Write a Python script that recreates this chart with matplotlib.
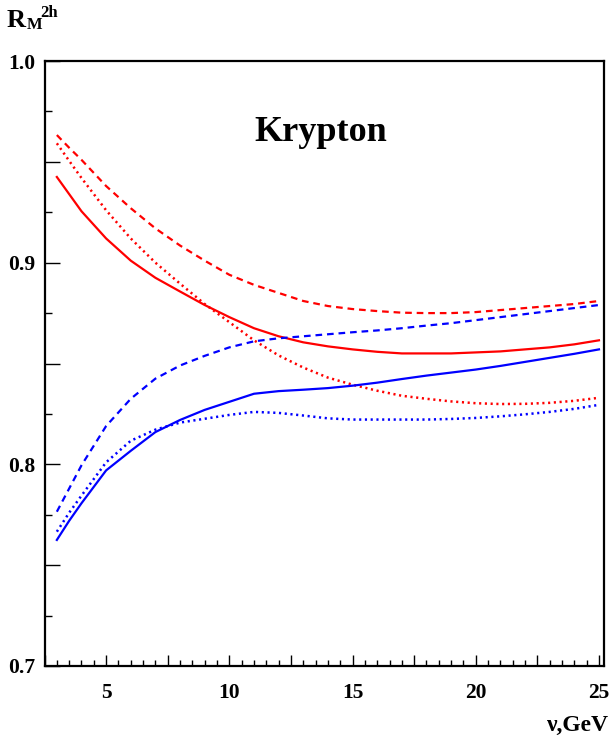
import matplotlib
matplotlib.use("Agg")
import matplotlib.pyplot as plt
from matplotlib.ticker import MultipleLocator, FuncFormatter

# ---- data ----
nu = [3, 3.5, 4, 5, 6, 7, 8, 9, 10, 11, 12, 13, 14, 15, 16, 17, 18, 19, 20, 21, 22, 23, 24, 25]

red_solid = [0.9425, 0.934, 0.9255, 0.912, 0.901, 0.8925, 0.8857, 0.879, 0.873, 0.8675, 0.8635,
             0.8605, 0.8585, 0.857, 0.8558, 0.855, 0.855, 0.855, 0.8555, 0.856, 0.857, 0.858, 0.8595, 0.8615]
red_dashed = [0.9633, 0.957, 0.951, 0.938, 0.927, 0.917, 0.9085, 0.901, 0.894, 0.889, 0.885,
              0.881, 0.8785, 0.877, 0.876, 0.8752, 0.875, 0.875, 0.8755, 0.8765, 0.8775, 0.8785, 0.8795, 0.881]
red_dotted = [0.9592, 0.9505, 0.942, 0.926, 0.912, 0.900, 0.8896, 0.8795, 0.8705, 0.8615, 0.854,
              0.848, 0.843, 0.8395, 0.8365, 0.834, 0.8325, 0.8312, 0.8303, 0.8299, 0.830, 0.8305, 0.8315, 0.833]
blue_solid = [0.7625, 0.772, 0.7807, 0.797, 0.8067, 0.816, 0.822, 0.827, 0.831, 0.835, 0.8363,
              0.837, 0.8378, 0.839, 0.8405, 0.8423, 0.844, 0.8455, 0.847, 0.8488, 0.8508, 0.8528, 0.8548, 0.857]
blue_dashed = [0.7765, 0.788, 0.7995, 0.819, 0.8325, 0.8425, 0.849, 0.8538, 0.858, 0.861, 0.8625,
               0.8635, 0.8645, 0.8655, 0.8664, 0.8675, 0.8688, 0.870, 0.8715, 0.873, 0.8745, 0.876, 0.8775, 0.879]
blue_dotted = [0.7666, 0.776, 0.7845, 0.801, 0.8117, 0.8172, 0.8207, 0.8226, 0.8245, 0.826, 0.8255,
               0.8242, 0.8228, 0.8222, 0.8222, 0.8222, 0.8222, 0.8225, 0.823, 0.8238, 0.8248, 0.826, 0.8275, 0.8295]

title_text = "Krypton"
xlabel_text = "ν,GeV"

serif = ["Liberation Serif", "DejaVu Serif"]

fig = plt.figure(figsize=(6.10, 7.38), dpi=100)
ax = fig.add_axes([0.073, 0.0976, 0.917, 0.8197])

lw = 1.6
dash = (0, (3.0, 2.2))
dot = (0, (0.85, 1.45))
ax.plot(nu, red_solid, color="#ff0000", lw=lw, ls="-")
ax.plot(nu, red_dashed, color="#ff0000", lw=lw, ls=dash)
ax.plot(nu, red_dotted, color="#ff0000", lw=1.8, ls=dot)
ax.plot(nu, blue_solid, color="#0000ff", lw=lw, ls="-")
ax.plot(nu, blue_dashed, color="#0000ff", lw=lw, ls=dash)
ax.plot(nu, blue_dotted, color="#0000ff", lw=1.8, ls=dot)

ax.set_xlim(2.5, 25.2)
ax.set_ylim(0.7, 1.0)

for s in ax.spines.values():
    s.set_linewidth(1.6)

ax.xaxis.set_major_locator(MultipleLocator(2.5))
ax.xaxis.set_minor_locator(MultipleLocator(0.5))
ax.yaxis.set_major_locator(MultipleLocator(0.05))
ax.yaxis.set_minor_locator(MultipleLocator(0.025))

def xfmt(v, pos):
    if abs(v / 5 - round(v / 5)) < 1e-6 and v > 0:
        return "%d" % round(v)
    return ""

def yfmt(v, pos):
    if abs(v * 10 - round(v * 10)) < 1e-6:
        return "%.1f" % v
    return ""

ax.xaxis.set_major_formatter(FuncFormatter(xfmt))
ax.yaxis.set_major_formatter(FuncFormatter(yfmt))

ax.tick_params(axis="both", which="both", direction="in", top=False, right=False, width=1.0)
ax.tick_params(axis="x", which="major", length=8, pad=12)
ax.tick_params(axis="x", which="minor", length=4)
ax.tick_params(axis="y", which="major", length=11, pad=6.5)
ax.tick_params(axis="y", which="minor", length=5)

for lab in ax.get_xticklabels() + ax.get_yticklabels():
    lab.set_fontfamily(serif)
    lab.set_fontweight("bold")
    lab.set_fontsize(15.5)

ax.text(0.493, 0.868, title_text, transform=ax.transAxes, ha="center", va="baseline",
        fontsize=26, fontweight="bold", family=serif)

# y-axis title R_M^2h
fig.text(7 / 610, 1 - 27 / 738, "R", ha="left", va="baseline", fontsize=19, fontweight="bold", family=serif)
fig.text(27 / 610, 1 - 29 / 738, "M", ha="left", va="baseline", fontsize=12, fontweight="bold", family=serif)
fig.text(40 / 610, 1 - 17 / 738, "2h", ha="left", va="baseline", fontsize=12, fontweight="bold", family=serif)

fig.text(609 / 610, 1 - 731 / 738, xlabel_text, ha="right", va="baseline", fontsize=17,
         fontweight="bold", family=serif)

fig.savefig("out.png", dpi=100)
